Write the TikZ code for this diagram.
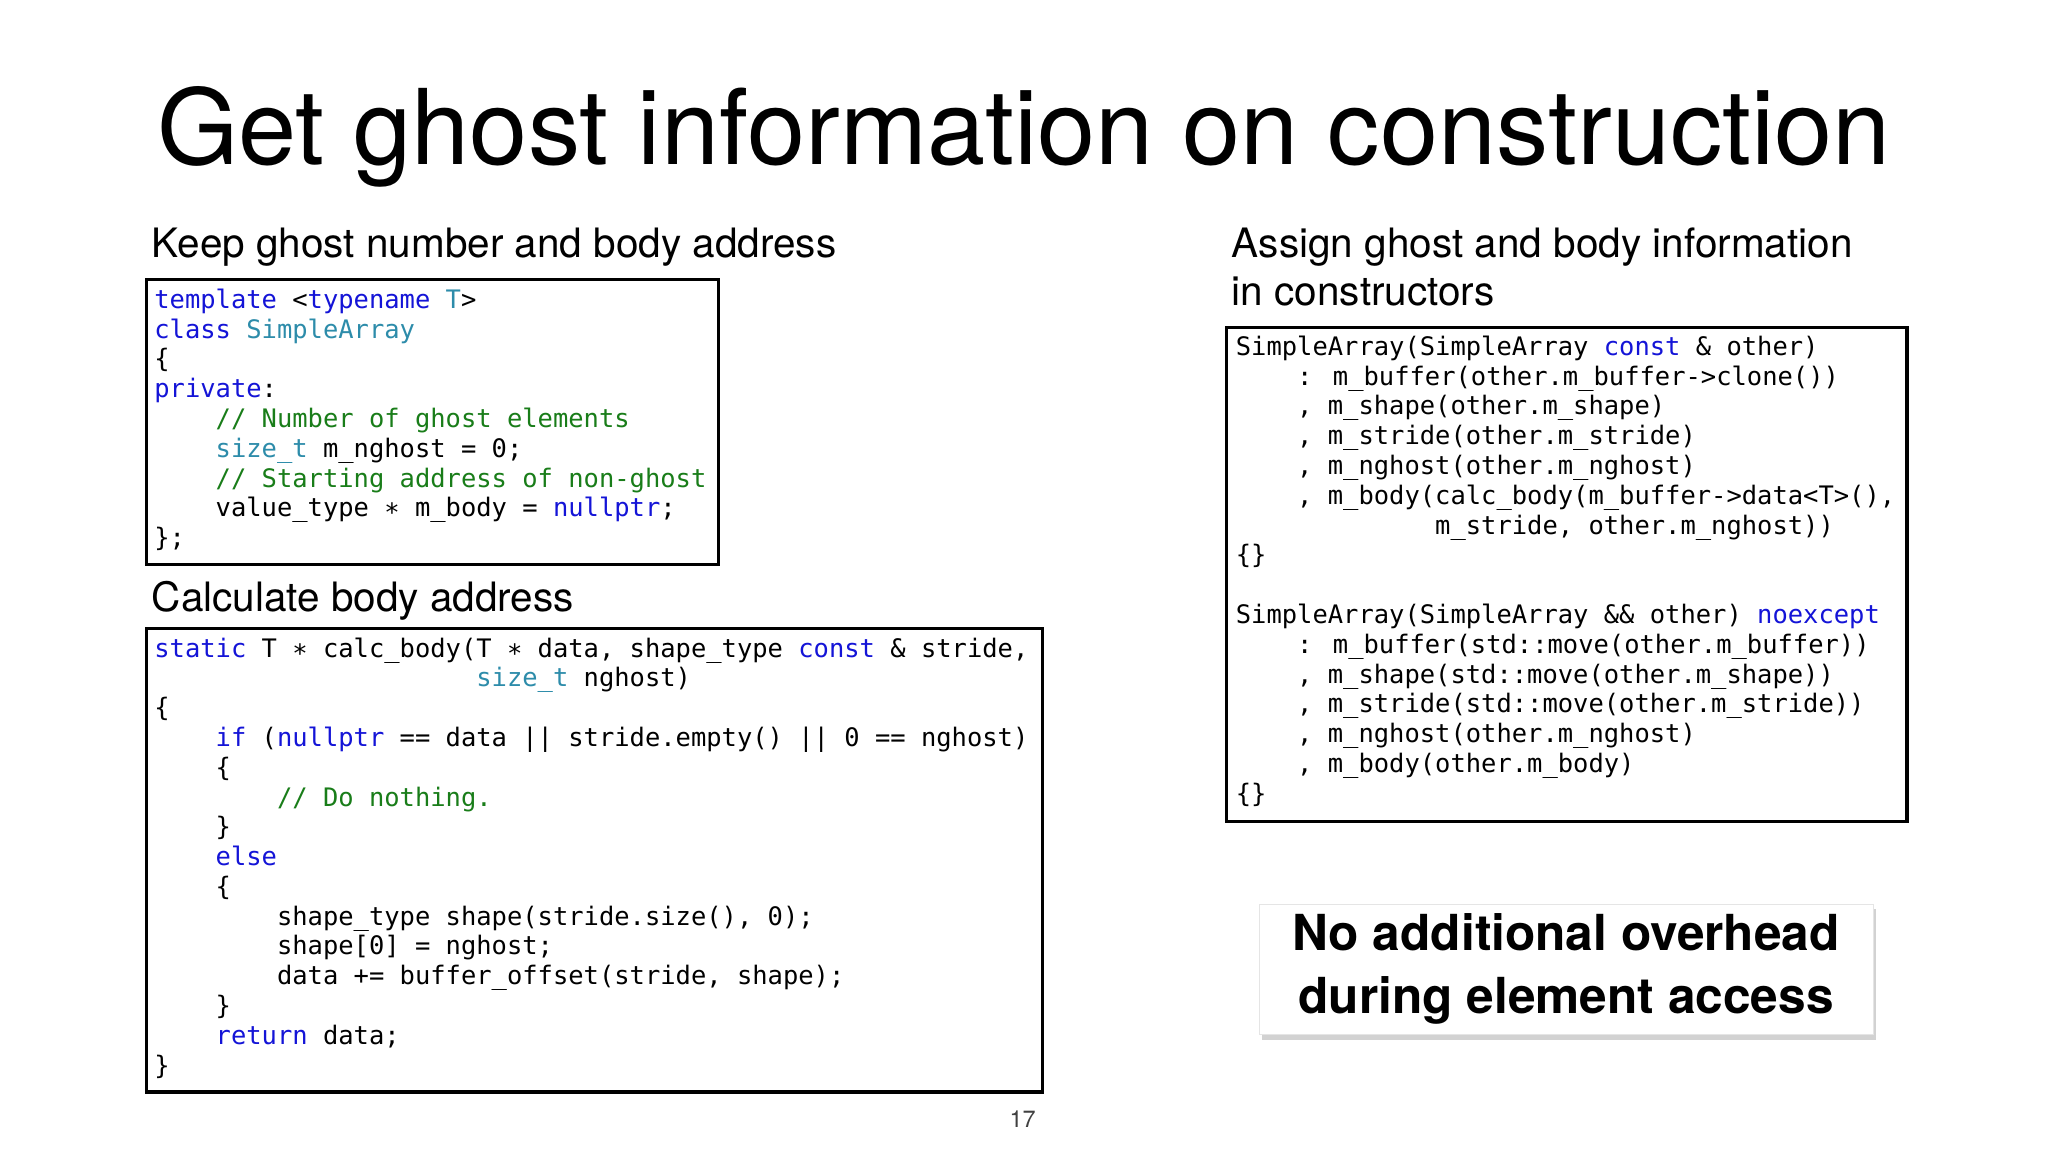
\documentclass[tikz,border=0pt]{standalone}
\usepackage{fontspec}
\setmainfont{TeX Gyre Heros}
\newfontfamily\code{DejaVu Sans Mono}
\usetikzlibrary{shadows}
\definecolor{kw}{RGB}{20,20,215}
\definecolor{ty}{RGB}{45,140,170}
\definecolor{cm}{RGB}{25,125,25}
\newcommand\K[1]{\textcolor{kw}{#1}}
\newcommand\T[1]{\textcolor{ty}{#1}}
\newcommand\C[1]{\textcolor{cm}{#1}}
\newcommand\I[1]{\hspace*{#1\fontcharwd\font`0}}
\tikzset{
  codebox/.style={draw=black,line width=2.5pt},
  codetext/.style={anchor=north west,align=left,inner sep=0pt,font=\code\fontsize{19.5}{22.8}\selectfont},
  sub/.style={anchor=base west,inner sep=0pt,font=\fontsize{31}{37}\selectfont}
}
\begin{document}
\begin{tikzpicture}[x=1pt,y=-1pt]
\fill[white] (0,0) rectangle (1568,882);
\node[anchor=base,inner sep=0pt,font=\fontsize{80}{90}\selectfont] (title) at (784,126) {Get ghost information on construction};
\node[sub] (s1) at (116,197) {Keep ghost number and body address};
\node[sub] (s2) at (116,468) {Calculate body address};
\node[sub,align=left] (s3) at (943,197) {Assign ghost and body information};
\node[sub] (s4) at (943,234) {in constructors};

\draw[codebox] (112,214) rectangle (550,432);
\node[codetext] (c1) at (118,221) {%
\K{template} <\K{typename} \T{T}>\\
\K{class} \T{SimpleArray}\\
\{\\
\K{private}:\\
\I{4}\C{// Number of ghost elements}\\
\I{4}\T{size\_t} m\_nghost = 0;\\
\I{4}\C{// Starting address of non-ghost}\\
\I{4}value\_type ∗ m\_body = \K{nullptr};\\
\};};

\draw[codebox] (112,481) rectangle (798,836);
\node[codetext] (c2) at (118,488) {%
\K{static} T ∗ calc\_body(T ∗ data, shape\_type \K{const} \& stride,\\
\I{21}\T{size\_t} nghost)\\
\{\\
\I{4}\K{if} (\K{nullptr} == data || stride.empty() || 0 == nghost)\\
\I{4}\{\\
\I{8}\C{// Do nothing.}\\
\I{4}\}\\
\I{4}\K{else}\\
\I{4}\{\\
\I{8}shape\_type shape(stride.size(), 0);\\
\I{8}shape[0] = nghost;\\
\I{8}data += buffer\_offset(stride, shape);\\
\I{4}\}\\
\I{4}\K{return} data;\\
\}};

\draw[codebox] (939,251) rectangle (1460,629);
\node[codetext] (c3) at (946,257) {%
SimpleArray(SimpleArray \K{const} \& other)\\
\I{4}: m\_buffer(other.m\_buffer->clone())\\
\I{4}, m\_shape(other.m\_shape)\\
\I{4}, m\_stride(other.m\_stride)\\
\I{4}, m\_nghost(other.m\_nghost)\\
\I{4}, m\_body(calc\_body(m\_buffer->data<T>(),\\
\I{13}m\_stride, other.m\_nghost))\\
\{\}\\
\mbox{}\\
SimpleArray(SimpleArray \&\& other) \K{noexcept}\\
\I{4}: m\_buffer(std::move(other.m\_buffer))\\
\I{4}, m\_shape(std::move(other.m\_shape))\\
\I{4}, m\_stride(std::move(other.m\_stride))\\
\I{4}, m\_nghost(other.m\_nghost)\\
\I{4}, m\_body(other.m\_body)\\
\{\}};

\node[fill=white,draw=black!10,drop shadow={shadow xshift=2pt,shadow yshift=-4pt,opacity=0.35},minimum width=470pt,minimum height=100pt,align=center,font=\bfseries\fontsize{38}{48}\selectfont] (note) at (1199,742) {No additional overhead\\during element access};

\node[anchor=base,font=\fontsize{18}{20}\selectfont,text=black!75,inner sep=0pt] (pg) at (783,863) {17};
\end{tikzpicture}
\end{document}
